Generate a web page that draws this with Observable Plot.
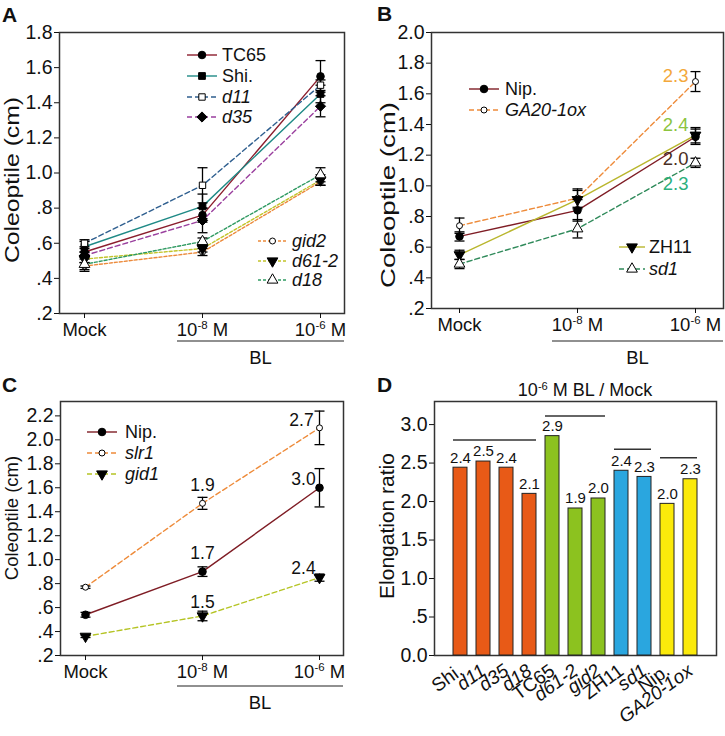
<!DOCTYPE html>
<html><head><meta charset="utf-8">
<script src="https://cdn.jsdelivr.net/npm/d3@7"></script>
<script src="https://cdn.jsdelivr.net/npm/@observablehq/plot@0.6"></script>
<style>
body{margin:0;background:#fff;}
#fig{position:relative;width:725px;height:736px;background:#fff;}
.panel{position:absolute;}
</style></head><body><div id="fig"></div>
<script>
// ---------- DATA ----------
const doses = ["Mock", "1e-8", "1e-6"];
const doseLabels = ["Mock", "10^-8 M", "10^-6 M"];

// Panel A
const aNames = ["TC65", "Shi.", "d11", "d35", "gid2", "d61-2", "d18"];
const aTC65 = [0.55, 0.76, 1.55], aTC65Err = [0.02, 0.04, 0.09];
const aShi = [0.58, 0.81, 1.45], aShiErr = [0.03, 0.07, 0.05];
const aD11 = [0.60, 0.93, 1.50], aD11Err = [0.02, 0.10, 0.03];
const aD35 = [0.53, 0.73, 1.38], aD35Err = [0.02, 0.07, 0.06];
const aGid2 = [0.47, 0.55, 0.95], aGid2Err = [0.02, 0.02, 0.02];
const aD612 = [0.51, 0.57, 0.96], aD612Err = [0.02, 0.02, 0.03];
const aD18 = [0.48, 0.61, 0.99], aD18Err = [0.04, 0.02, 0.04];
const aYTicks = [0.2, 0.4, 0.6, 0.8, 1.0, 1.2, 1.4, 1.6, 1.8];
const aYTickLabels = [".2", ".4", ".6", ".8", "1.0", "1.2", "1.4", "1.6", "1.8"];

// Panel B
const bNames = ["Nip.", "GA20-1ox", "ZH11", "sd1"];
const bNip = [0.67, 0.84, 1.32], bNipErr = [0.03, 0.07, 0.05];
const bGA20 = [0.74, 0.92, 1.68], bGA20Err = [0.05, 0.06, 0.065];
const bZH11 = [0.55, 0.91, 1.33], bZH11Err = [0.03, 0.06, 0.05];
const bSd1 = [0.49, 0.72, 1.15], bSd1Err = [0.03, 0.06, 0.03];
const bRatioSeries = ["GA20-1ox", "ZH11", "Nip.", "sd1"];
const bRatioText = ["2.3", "2.4", "2.0", "2.3"];
const bYTicks = [0.2, 0.4, 0.6, 0.8, 1.0, 1.2, 1.4, 1.6, 1.8, 2.0];
const bYTickLabels = [".2", ".4", ".6", ".8", "1.0", "1.2", "1.4", "1.6", "1.8", "2.0"];

// Panel C
const cNames = ["Nip.", "slr1", "gid1"];
const cNip = [0.54, 0.90, 1.60], cNipErr = [0.02, 0.04, 0.16];
const cSlr1 = [0.77, 1.47, 2.10], cSlr1Err = [0.01, 0.05, 0.14];
const cGid1 = [0.36, 0.53, 0.85], cGid1Err = [0.01, 0.04, 0.03];
const cRatioSeries = ["slr1", "slr1", "Nip.", "Nip.", "gid1", "gid1"];
const cRatioDose = ["1e-8", "1e-6", "1e-8", "1e-6", "1e-8", "1e-6"];
const cRatioText = ["1.9", "2.7", "1.7", "3.0", "1.5", "2.4"];
const cYTicks = [0.2, 0.4, 0.6, 0.8, 1.0, 1.2, 1.4, 1.6, 1.8, 2.0, 2.2];
const cYTickLabels = [".2", ".4", ".6", ".8", "1.0", "1.2", "1.4", "1.6", "1.8", "2.0", "2.2"];

// Panel D
const dNames = ["Shi.", "d11", "d35", "d18", "TC65", "d61-2", "gid2", "ZH11", "sd1", "Nip.", "GA20-1ox"];
const dRatios = [2.44, 2.52, 2.44, 2.10, 2.85, 1.91, 2.04, 2.40, 2.32, 1.97, 2.29];
const dLabels = ["2.4", "2.5", "2.4", "2.1", "2.9", "1.9", "2.0", "2.4", "2.3", "2.0", "2.3"];
const dGroups = ["Shi", "Shi", "Shi", "Shi", "TC65", "TC65", "TC65", "ZH11", "ZH11", "Nip", "Nip"];
const dBracketFrom = ["Shi.", "TC65", "ZH11", "Nip."];
const dBracketTo = ["d18", "gid2", "sd1", "GA20-1ox"];
const dBracketY = [2.80, 3.11, 2.68, 2.57];
const dYTicks = [0, 0.5, 1.0, 1.5, 2.0, 2.5, 3.0];
const dYTickLabels = ["0.0", ".5", "1.0", "1.5", "2.0", "2.5", "3.0"];

// ---------- STYLES ----------
const FONT = '"Liberation Sans", Arial, Helvetica, sans-serif';
const styles = {
  A: {
    "TC65": {color: "#8b1e2d", dash: null, symbol: "circle", r: 3.8, open: false},
    "Shi.": {color: "#1f8a86", dash: null, symbol: "square", r: 3.8, open: false},
    "d11": {color: "#2f5f8f", dash: "5,3", symbol: "square", r: 3.6, open: true, italic: true},
    "d35": {color: "#9a3f9e", dash: "5,3", symbol: "diamond2", r: 4.6, open: false, italic: true},
    "gid2": {color: "#ec8a3b", dash: "3,2", symbol: "circle", r: 3, open: true, italic: true},
    "d61-2": {color: "#c2c42a", dash: "3,2", symbol: "triangle", r: 4, open: false, down: true, italic: true},
    "d18": {color: "#2f9a62", dash: "3,2", symbol: "triangle", r: 4, open: true, italic: true}
  },
  B: {
    "Nip.": {color: "#7f1d25", dash: null, symbol: "circle", r: 3.8, open: false},
    "GA20-1ox": {color: "#ee8b3a", dash: "5,3", symbol: "circle", r: 3, open: true, italic: true},
    "ZH11": {color: "#b9b62d", dash: null, symbol: "triangle", r: 4, open: false, down: true},
    "sd1": {color: "#2f8a5a", dash: "5,3", symbol: "triangle", r: 4, open: true, italic: true}
  },
  C: {
    "Nip.": {color: "#7f1d25", dash: null, symbol: "circle", r: 3.8, open: false},
    "slr1": {color: "#ee8b3a", dash: "5,3", symbol: "circle", r: 3, open: true, italic: true},
    "gid1": {color: "#b5c424", dash: "5,3", symbol: "triangle", r: 4, open: false, down: true, italic: true}
  }
};
const bRatioColors = ["#f3a83b", "#8cc43f", "#4a2e22", "#2bb07d"];
const dGroupColors = {Shi: "#e85a17", TC65: "#8cc21f", ZH11: "#2aa6df", Nip: "#fbea0b"};
const dItalic = new Set(["d11", "d35", "d18", "d61-2", "gid2", "sd1", "GA20-1ox"]);

// ---------- HELPERS ----------
function rowsOf(name, vals, errs) {
  return doses.map((d, i) => ({series: name, dose: d, value: vals[i], err: errs[i]}));
}
const capSym = {draw(ctx) { ctx.moveTo(-5, 0); ctx.lineTo(5, 0); }};
const symbolMap = {circle: d3.symbolCircle, square: d3.symbolSquare, diamond2: d3.symbolDiamond2, triangle: d3.symbolTriangle};

function seriesMarks(seriesRows, st) {
  const lines = [], bars = [], dots = [];
  for (const [name, rows] of seriesRows) {
    const s = st[name];
    lines.push(Plot.line(rows, {x: "dose", y: "value", stroke: s.color, strokeWidth: 1.4, strokeDasharray: s.dash || undefined}));
    bars.push(Plot.ruleX(rows, {x: "dose", y1: d => d.value - d.err, y2: d => d.value + d.err, stroke: "#000", strokeWidth: 1.3}));
    bars.push(Plot.dot(rows, {x: "dose", y: d => d.value + d.err, symbol: capSym, stroke: "#000", strokeWidth: 1.3, fill: "none"}));
    bars.push(Plot.dot(rows, {x: "dose", y: d => d.value - d.err, symbol: capSym, stroke: "#000", strokeWidth: 1.3, fill: "none"}));
    dots.push(Plot.dot(rows, {x: "dose", y: "value", symbol: s.symbol, r: s.r, fill: s.open ? "white" : "black", stroke: "black", strokeWidth: 1, rotate: s.down ? 180 : 0}));
  }
  return [...lines, ...bars, ...dots];
}

function superscript(textSel, str) {
  const m = str.match(/^(.*?)\^(-?\d+)(.*)$/);
  textSel.text(null);
  if (!m) { textSel.text(str); return; }
  textSel.append("tspan").text(m[1]);
  textSel.append("tspan").attr("font-size", "0.62em").attr("dy", "-0.55em").text(m[2]);
  textSel.append("tspan").attr("dy", "0.341em").text(m[3]);
}
function fixXLabels(svg) {
  d3.select(svg).selectAll('g[aria-label="x-axis tick label"] text').each(function () {
    const t = d3.select(this); superscript(t, t.text());
  });
}
function drawLegend(svg, st, names, x0, x1, tx, ys) {
  const g = d3.select(svg).append("g").attr("text-anchor", "start");
  names.forEach((n, i) => {
    const s = st[n], y = ys[i];
    g.append("line").attr("x1", x0).attr("x2", x1).attr("y1", y).attr("y2", y)
      .attr("stroke", s.color).attr("stroke-width", 1.4).attr("stroke-dasharray", s.dash || null);
    g.append("path").attr("d", d3.symbol(symbolMap[s.symbol], Math.PI * s.r * s.r)())
      .attr("transform", `translate(${(x0 + x1) / 2},${y}) rotate(${s.down ? 180 : 0})`)
      .attr("fill", s.open ? "white" : "black").attr("stroke", "black");
    g.append("text").attr("x", tx).attr("y", y).attr("dy", "0.35em").attr("font-size", 18)
      .attr("text-anchor", "start")
      .attr("font-style", s.italic ? "italic" : null).attr("fill", "#111").text(n);
  });
}
function addText(svg, x, y, str, opts = {}) {
  const t = d3.select(svg).append("text").attr("x", x).attr("y", y)
    .attr("font-size", opts.size || 18).attr("text-anchor", opts.anchor || "middle")
    .attr("font-weight", opts.weight || null).attr("fill", "#111");
  if (opts.rotate) t.attr("transform", `rotate(${opts.rotate},${x},${y})`);
  if (opts.dy) t.attr("dy", opts.dy);
  if (opts.length) t.attr("textLength", opts.length).attr("lengthAdjust", "spacingAndGlyphs");
  superscript(t, str);
  return t;
}
function blBracket(svg, plot, width, marginRight, yLine) {
  const xs = plot.scale("x");
  const x1 = xs.apply("1e-8") - 25, x2 = width - marginRight;
  d3.select(svg).append("line").attr("x1", x1).attr("x2", x2).attr("y1", yLine).attr("y2", yLine).attr("stroke", "#222").attr("stroke-width", 1.2);
  addText(svg, (x1 + x2) / 2, yLine + 23, "BL", {size: 18.5});
}
function axisMarks(yt, yl) {
  return [
    Plot.frame({stroke: "#333", strokeWidth: 1.5}),
    Plot.axisY({ticks: yt, tickFormat: d => yl[yt.indexOf(d)], tickSize: 5, tickPadding: 2, label: null, fontSize: 19.5}),
    Plot.axisX({tickSize: 5, tickPadding: 4, tickFormat: d => doseLabels[doses.indexOf(d)], label: null, fontSize: 18.5})
  ];
}
function place(node, left, top) {
  const div = document.createElement("div");
  div.className = "panel"; div.style.left = left + "px"; div.style.top = top + "px";
  div.appendChild(node); document.getElementById("fig").appendChild(div);
}
const baseStyle = {fontFamily: FONT, fontSize: "18px", background: "white", color: "#111", overflow: "visible"};

// ---------- PANEL A ----------
{
  const W = 362, H = 368, mr = 18;
  const sr = [["TC65", rowsOf("TC65", aTC65, aTC65Err)], ["Shi.", rowsOf("Shi.", aShi, aShiErr)],
    ["d11", rowsOf("d11", aD11, aD11Err)], ["d35", rowsOf("d35", aD35, aD35Err)],
    ["gid2", rowsOf("gid2", aGid2, aGid2Err)], ["d61-2", rowsOf("d61-2", aD612, aD612Err)],
    ["d18", rowsOf("d18", aD18, aD18Err)]];
  const p = Plot.plot({
    width: W, height: H, marginLeft: 59, marginRight: mr, marginTop: 32, marginBottom: 55,
    style: baseStyle,
    x: {type: "point", domain: doses, padding: 0.2},
    y: {domain: [0.2, 1.8]},
    marks: [...axisMarks(aYTicks, aYTickLabels), ...seriesMarks(sr, styles.A)]
  });
  fixXLabels(p);
  drawLegend(p, styles.A, aNames.slice(0, 4), 187, 217, 222, [55, 76, 97, 117]);
  drawLegend(p, styles.A, aNames.slice(4), 258, 287, 292, [241, 261, 280]);
  blBracket(p, p, W, mr, 341);
  addText(p, 12, 180, "Coleoptile (cm)", {rotate: -90, dy: "0.35em", size: 21, length: 166});
  addText(p, 2, 22, "A", {anchor: "start", weight: "bold", size: 21});
  place(p, 0, 0);
}
// ---------- PANEL B ----------
{
  const W = 363, H = 368, mr = 2;
  const sr = [["Nip.", rowsOf("Nip.", bNip, bNipErr)], ["GA20-1ox", rowsOf("GA20-1ox", bGA20, bGA20Err)],
    ["ZH11", rowsOf("ZH11", bZH11, bZH11Err)], ["sd1", rowsOf("sd1", bSd1, bSd1Err)]];
  const lookup = Object.fromEntries(sr.map(([n, r]) => [n, r]));
  const ratioDy = [-5, -10, 22, 21];
  const ann = bRatioSeries.map((s, i) => Plot.text([lookup[s][2]], {x: "dose", y: "value", text: () => bRatioText[i], fill: bRatioColors[i], textAnchor: "end", dx: -7, dy: ratioDy[i], fontSize: 18.5}));
  const p = Plot.plot({
    width: W, height: H, marginLeft: 69, marginRight: mr, marginTop: 32, marginBottom: 60,
    style: baseStyle,
    x: {type: "point", domain: doses, padding: 0.23},
    y: {domain: [0.2, 2.0]},
    marks: [...axisMarks(bYTicks, bYTickLabels), ...seriesMarks(sr, styles.B), ...ann]
  });
  fixXLabels(p);
  drawLegend(p, styles.B, bNames.slice(0, 2), 107, 137, 143, [89, 110]);
  drawLegend(p, styles.B, bNames.slice(2), 257, 283, 287, [247, 269]);
  blBracket(p, p, W, mr, 341);
  addText(p, 26, 195, "Coleoptile (cm)", {rotate: -90, dy: "0.35em", size: 21, length: 186});
  addText(p, 15, 21, "B", {anchor: "start", weight: "bold", size: 21});
  place(p, 362, 0);
}
// ---------- PANEL C ----------
{
  const W = 362, H = 368, mr = 19;
  const sr = [["Nip.", rowsOf("Nip.", cNip, cNipErr)], ["slr1", rowsOf("slr1", cSlr1, cSlr1Err)],
    ["gid1", rowsOf("gid1", cGid1, cGid1Err)]];
  const lookup = Object.fromEntries(sr.map(([n, r]) => [n, r]));
  const cDx = [0, -18, 0, -16, 0, -16], cDy = [-18, -7, -18, -8, -14, -9];
  const ann = cRatioSeries.map((s, i) => Plot.text([lookup[s][doses.indexOf(cRatioDose[i])]], {x: "dose", y: "value", text: () => cRatioText[i], fill: "#111", dx: cDx[i], dy: cDy[i], fontSize: 17.5}));
  const p = Plot.plot({
    width: W, height: H, marginLeft: 60, marginRight: mr, marginTop: 33, marginBottom: 81,
    style: baseStyle,
    x: {type: "point", domain: doses, padding: 0.2},
    y: {domain: [0.2, 2.32]},
    marks: [...axisMarks(cYTicks, cYTickLabels), ...seriesMarks(sr, styles.C), ...ann]
  });
  fixXLabels(p);
  drawLegend(p, styles.C, cNames, 87, 117, 125, [64, 85, 106]);
  blBracket(p, p, W, mr, 318);
  addText(p, 12, 150, "Coleoptile (cm)", {rotate: -90, dy: "0.35em", size: 18.5});
  addText(p, 2, 24, "C", {anchor: "start", weight: "bold", size: 21});
  place(p, 0, 368);
}
// ---------- PANEL D ----------
{
  const W = 363, H = 368;
  const rows = dNames.map((n, i) => ({name: n, ratio: dRatios[i], label: dLabels[i], group: dGroups[i]}));
  const brackets = dBracketFrom.map((f, i) => ({from: f, to: dBracketTo[i], y: dBracketY[i]}));
  const groups = Object.keys(dGroupColors);
  const p = Plot.plot({
    width: W, height: H, marginLeft: 72, marginRight: 9, marginTop: 33, marginBottom: 81,
    style: baseStyle,
    x: {type: "band", domain: dNames, paddingInner: 0.4, paddingOuter: 0.65},
    y: {domain: [0, 3.3]},
    color: {domain: groups, range: groups.map(g => dGroupColors[g])},
    marks: [
      Plot.frame({stroke: "#333", strokeWidth: 1.5}),
      Plot.axisY({ticks: dYTicks, tickFormat: d => dYTickLabels[dYTicks.indexOf(d)], tickSize: 5, tickPadding: 2, label: null, fontSize: 19.5}),
      Plot.axisX({tickSize: 0, tickPadding: 13, tickRotate: -36, label: null, fontSize: 19}),
      Plot.barY(rows, {x: "name", y: "ratio", fill: "group", stroke: "#222", strokeWidth: 1}),
      Plot.text(rows, {x: "name", y: "ratio", text: "label", dy: -10, fontSize: 15}),
      Plot.ruleY(brackets, {x1: "from", x2: "to", y: "y", stroke: "#333", strokeWidth: 1.5})
    ]
  });
  d3.select(p).selectAll('g[aria-label="x-axis tick label"] text').each(function () {
    const t = d3.select(this); if (dItalic.has(t.text())) t.attr("font-style", "italic");
  });
  addText(p, 223, 22, "10^-6 M BL / Mock", {dy: "0.35em"});
  addText(p, 25, 158, "Elongation ratio", {rotate: -90, dy: "0.35em", size: 21});
  addText(p, 15, 24, "D", {anchor: "start", weight: "bold", size: 21});
  place(p, 362, 368);
}
</script></body></html>
